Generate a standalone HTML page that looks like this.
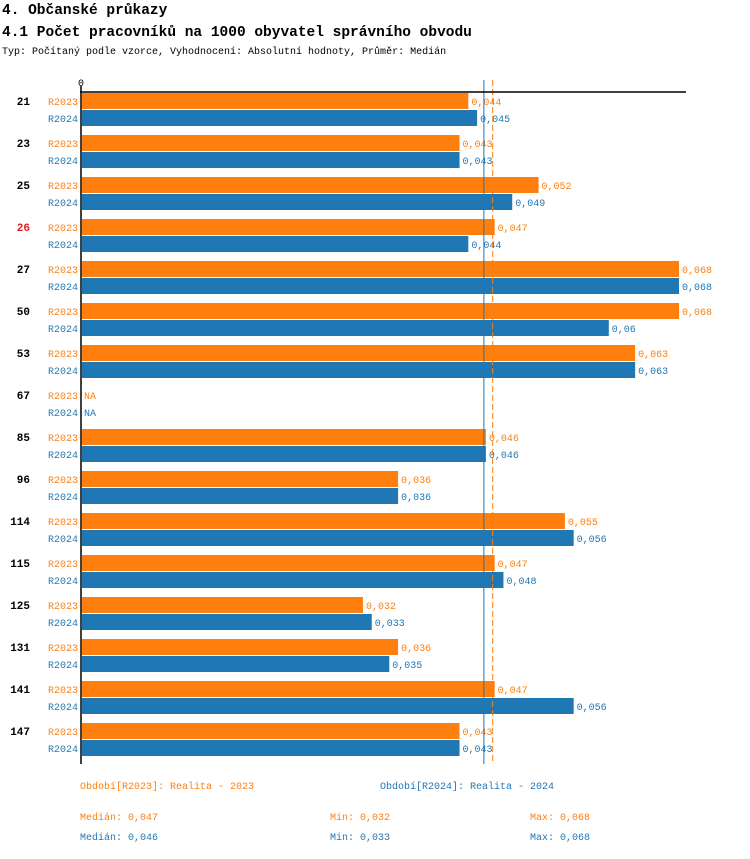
<!DOCTYPE html>
<html><head><meta charset="utf-8"><style>
body{margin:0;background:#fff;width:750px;height:854px;overflow:hidden;font-family:"Liberation Mono","DejaVu Sans Mono",monospace}
svg text{font-family:"Liberation Mono","DejaVu Sans Mono",monospace}
</style></head><body>
<svg id="chart" width="750" height="854">
<text x="2" y="14" font-size="14.5" font-weight="bold">4. Občanské průkazy</text>
<text x="2" y="36" font-size="14.5" font-weight="bold">4.1 Počet pracovníků na 1000 obyvatel správního obvodu</text>
<text x="2" y="54" font-size="10">Typ: Počítaný podle vzorce, Vyhodnocení: Absolutní hodnoty, Průměr: Medián</text>
<g id="plot"></g>
<text x="80" y="789" font-size="10" fill="#ff7f0e">Období[R2023]: Realita - 2023</text>
<text x="380" y="789" font-size="10" fill="#1f77b4">Období[R2024]: Realita - 2024</text>
<text x="80" y="820" font-size="10" fill="#ff7f0e">Medián: 0,047</text>
<text x="330" y="820" font-size="10" fill="#ff7f0e">Min: 0,032</text>
<text x="530" y="820" font-size="10" fill="#ff7f0e">Max: 0,068</text>
<text x="80" y="840" font-size="10" fill="#1f77b4">Medián: 0,046</text>
<text x="330" y="840" font-size="10" fill="#1f77b4">Min: 0,033</text>
<text x="530" y="840" font-size="10" fill="#1f77b4">Max: 0,068</text>
</svg>
<script>
const categories=["21","23","25","26","27","50","53","67","85","96","114","115","125","131","141","147"];
const highlighted=["26"];
const r2023=[0.044,0.043,0.052,0.047,0.068,0.068,0.063,null,0.046,0.036,0.055,0.047,0.032,0.036,0.047,0.043];
const r2024=[0.045,0.043,0.049,0.044,0.068,0.06,0.063,null,0.046,0.036,0.056,0.048,0.033,0.035,0.056,0.043];
const medians=[0.047,0.046];
const NS="http://www.w3.org/2000/svg";
const g=document.getElementById('plot');
const X0=82,SC=8780,TOP=93,STEP=42;
const xs=v=>X0+v*SC;
const colors=["#ff7f0e","#1f77b4"];
function mk(t,a){const e=document.createElementNS(NS,t);for(const k in a)e.setAttribute(k,a[k]);g.appendChild(e);return e;}
const series=[r2023,r2024],names=["R2023","R2024"];
categories.forEach((c,i)=>{
  const y0=TOP+i*STEP;
  const lab=mk('text',{x:30,y:y0+12,'font-size':11,'font-weight':'bold','text-anchor':'end',fill:highlighted.includes(c)?'#e31a1c':'#000'});
  lab.textContent=c;
  
  
  series.forEach((s,j)=>{
    const y=y0+j*17;
    const sl=mk('text',{x:78,y:y+12,'font-size':10,'text-anchor':'end',fill:colors[j]});
    sl.textContent=names[j];
    
    
    const v=s[i];
    if(v==null){
      const na=mk('text',{x:84,y:y+12,'font-size':10,fill:colors[j]});na.textContent="NA";
      
      
      return;
    }
    const r=mk('rect',{x:X0,y:y,width:xs(v)-X0,height:16,fill:colors[j]});
    
    
    const vl=mk('text',{x:xs(v)+3,y:y+12,'font-size':10,fill:colors[j]});
    vl.textContent=String(v).replace('.',',');
    
    
  });
});
const bottom=TOP+categories.length*STEP-1;
medians.forEach((m,j)=>{
  const l=mk('line',{x1:xs(m)-2,x2:xs(m)-2,y1:80,y2:bottom,stroke:colors[j],'stroke-width':1});
  if(j==0)l.setAttribute('stroke-dasharray','6,3');
  
  
});
const ax=mk('line',{x1:80,x2:686,y1:92,y2:92,stroke:'#000','stroke-width':1.5});


const ay=mk('line',{x1:81,x2:81,y1:86,y2:bottom,stroke:'#000','stroke-width':1.5});


const z=mk('text',{x:81,y:86,'font-size':10,'text-anchor':'middle'});z.textContent="0";


</script>
</body></html>
